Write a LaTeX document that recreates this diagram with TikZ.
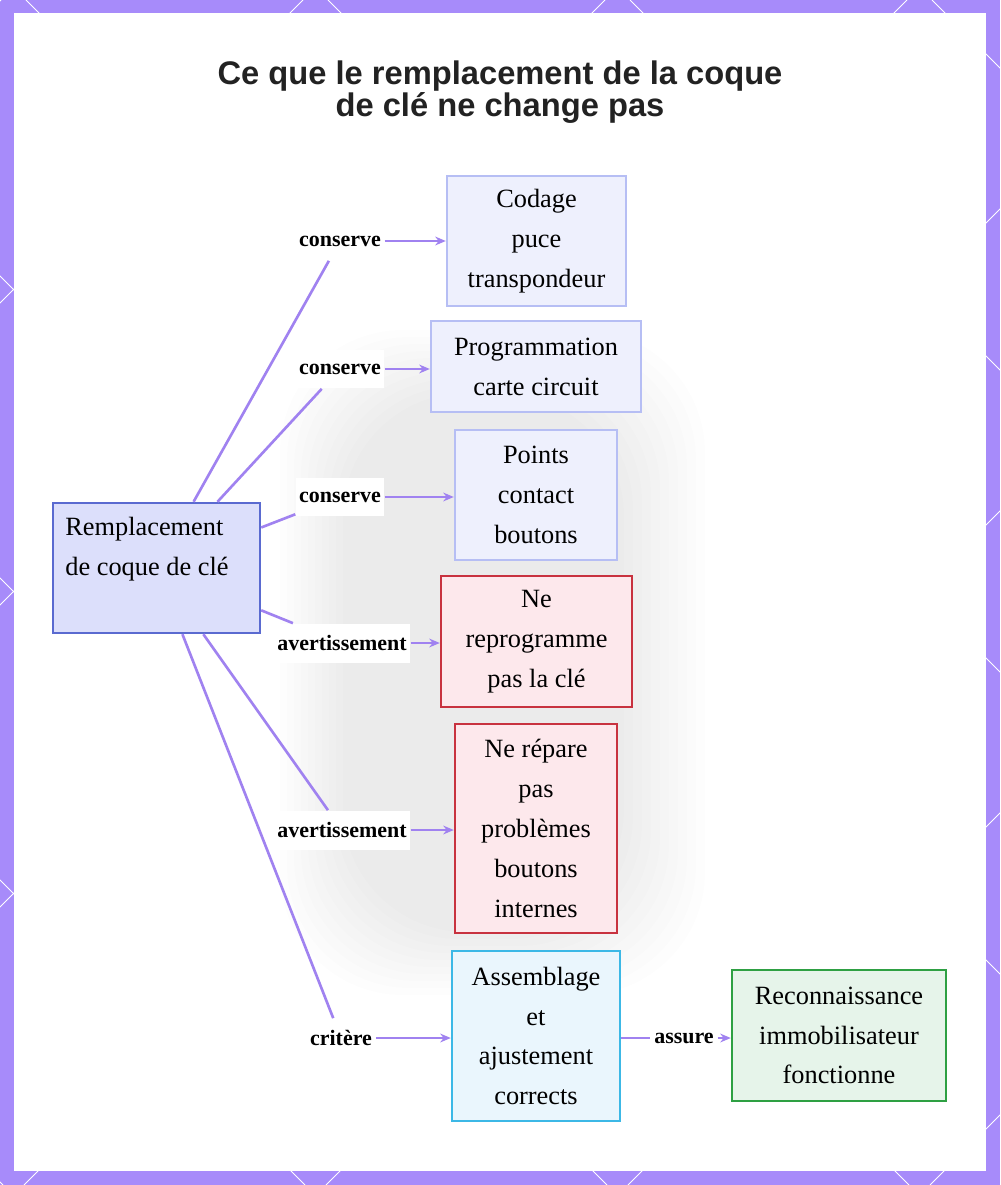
\documentclass[tikz,border=0pt]{standalone}
\usepackage{fontspec}
\setmainfont{Liberation Serif}
\newfontfamily\titlefont{Liberation Sans}
\usetikzlibrary{arrows.meta}

\definecolor{framepurple}{RGB}{167,139,250}
\definecolor{linkpurple}{RGB}{160,130,240}
\definecolor{mainfill}{RGB}{220,223,251}
\definecolor{mainline}{RGB}{90,106,208}
\definecolor{softfill}{RGB}{238,240,253}
\definecolor{softline}{RGB}{182,190,244}
\definecolor{warnfill}{RGB}{253,232,236}
\definecolor{warnline}{RGB}{200,50,63}
\definecolor{fitfill}{RGB}{234,246,253}
\definecolor{fitline}{RGB}{60,184,230}
\definecolor{okfill}{RGB}{230,244,234}
\definecolor{okline}{RGB}{46,160,67}
\definecolor{titlegray}{RGB}{34,34,34}

\begin{document}
\begin{tikzpicture}[x=0.02cm, y=-0.02cm,
  box/.style={draw, line width=1.4pt, inner sep=0pt, align=center,
    font=\fontsize{15}{22.7}\selectfont},
  mainbox/.style={box, draw=mainline, fill=mainfill},
  softbox/.style={box, draw=softline, fill=softfill},
  warnbox/.style={box, draw=warnline, fill=warnfill},
  fitbox/.style={box, draw=fitline, fill=fitfill},
  okbox/.style={box, draw=okline, fill=okfill},
  lbl/.style={fill=white, inner xsep=2pt, inner ysep=0pt, minimum height=0.78cm,
    font=\bfseries\fontsize{12.5}{15}\selectfont},
  link/.style={draw=linkpurple, line width=1.5pt},
  flow/.style={link, -{Stealth[length=6pt, width=5pt]}}]
\useasboundingbox (0,0) rectangle (1000,1185);
% frame with lattice
\fill[framepurple] (0,0) rectangle (1000,1185);
\foreach \k in {-5,...,6} {
  \draw[white, line width=0.5pt] (303+302*\k,0) -- (303+302*\k-1185,1185);
  \draw[white, line width=0.5pt] (328+302*\k,0) -- (328+302*\k+1185,1185);
}
\fill[white] (14,13) rectangle (986,1171);
% faint blurred key shape behind
\foreach \i in {0,...,9} {
  \fill[black, opacity=0.008, rounded corners=70]
    (280+7*\i,330+7*\i) rectangle (705-9*\i,995-7*\i);
}
% title
\node[font=\titlefont\bfseries\fontsize{18.6}{18.2}\selectfont, text=titlegray, align=center]
  (title) at (500,92) {Ce que le remplacement de la coque\\de clé ne change pas};
% boxes
\node[mainbox, minimum width=4.14cm, minimum height=2.6cm] (shell) at (156.5,568) {};
\node[font=\fontsize{15}{22.7}\selectfont, align=left, anchor=west, inner sep=0pt]
  (shelltext) at (65,549) {Remplacement\\de coque de clé};
\node[softbox, minimum width=3.58cm, minimum height=2.6cm]  (chip)    at (536.5,241)  {Codage\\puce\\transpondeur};
\node[softbox, minimum width=4.2cm,  minimum height=1.82cm] (board)   at (536,366.5)  {Programmation\\carte circuit};
\node[softbox, minimum width=3.24cm, minimum height=2.6cm]  (pads)    at (536,495)    {Points\\contact\\boutons};
\node[warnbox, minimum width=3.82cm, minimum height=2.62cm] (noprog)  at (536.5,641.5) {Ne\\reprogramme\\pas la clé};
\node[warnbox, minimum width=3.24cm, minimum height=4.18cm] (nofix)   at (536,828.5)  {Ne répare\\pas\\problèmes\\boutons\\internes};
\node[fitbox,  minimum width=3.36cm, minimum height=3.4cm]  (fit)     at (536,1036)   {Assemblage\\et\\ajustement\\corrects};
\node[okbox,   minimum width=4.28cm, minimum height=2.62cm] (immo)    at (839,1035.5) {Reconnaissance\\immobilisateur\\fonctionne};
% edge labels
\node[lbl] (keep1) at (340,241)  {conserve};
\node[lbl] (keep2) at (340,369)  {conserve};
\node[lbl] (keep3) at (340,497)  {conserve};
\node[lbl] (warn1) at (342,643)  {avertissement};
\node[lbl] (warn2) at (342,830)  {avertissement};
\node[lbl] (crit)  at (341,1038) {critère};
\node[lbl] (sure)  at (684,1038) {assure};
% connectors
\foreach \l/\b in {keep1/chip, keep2/board, keep3/pads, warn1/noprog, warn2/nofix, crit/fit} {
  \draw[link] (shell) -- (\l);
  \draw[flow] (\l) -- (\l -| \b.west);
}
\draw[link] (fit.east |- sure) -- (sure);
\draw[flow] (sure) -- (sure -| immo.west);
\end{tikzpicture}
\end{document}
